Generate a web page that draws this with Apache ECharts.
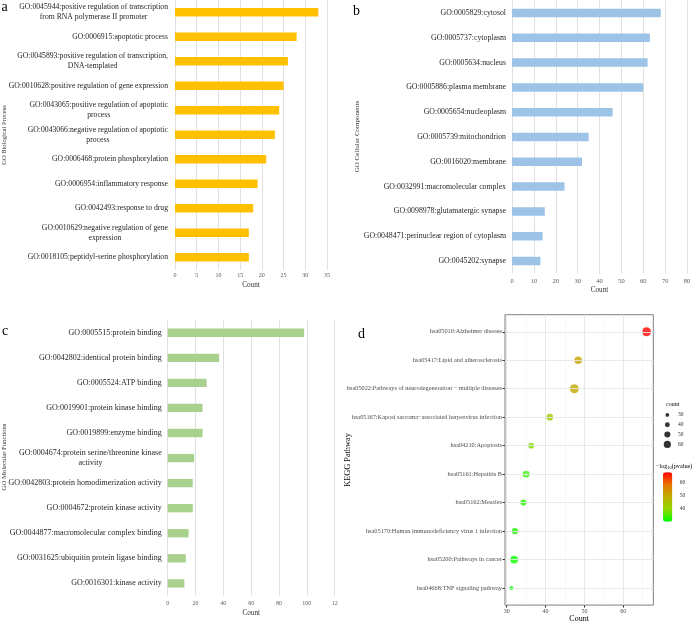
<!DOCTYPE html>
<html><head><meta charset="utf-8">
<script src="https://cdn.jsdelivr.net/npm/echarts@6/dist/echarts.min.js"></script>
<style>html,body{margin:0;padding:0;background:#fff}#c{width:700px;height:624px}</style>
</head><body><div id="c"></div>
<script>
// ---------- data ----------
const bpTerms = [
  "GO:0045944:positive regulation of transcription\nfrom RNA polymerase II promoter",
  "GO:0006915:apoptotic process",
  "GO:0045893:positive regulation of transcription,\nDNA-templated",
  "GO:0010628:positive regulation of gene expression",
  "GO:0043065:positive regulation of apoptotic\nprocess",
  "GO:0043066:negative regulation of apoptotic\nprocess",
  "GO:0006468:protein phosphorylation",
  "GO:0006954:inflammatory response",
  "GO:0042493:response to drug",
  "GO:0010629:negative regulation of gene\nexpression",
  "GO:0018105:peptidyl-serine phosphorylation"
];
const bpCounts = [33, 28, 26, 25, 24, 23, 21, 19, 18, 17, 17];

const ccTerms = [
  "GO:0005829:cytosol",
  "GO:0005737:cytoplasm",
  "GO:0005634:nucleus",
  "GO:0005886:plasma membrane",
  "GO:0005654:nucleoplasm",
  "GO:0005739:mitochondrion",
  "GO:0016020:membrane",
  "GO:0032991:macromolecular complex",
  "GO:0098978:glutamatergic synapse",
  "GO:0048471:perinuclear region of cytoplasm",
  "GO:0045202:synapse"
];
const ccCounts = [68, 63, 62, 60, 46, 35, 32, 24, 15, 14, 13];

const mfTerms = [
  "GO:0005515:protein binding",
  "GO:0042802:identical protein binding",
  "GO:0005524:ATP binding",
  "GO:0019901:protein kinase binding",
  "GO:0019899:enzyme binding",
  "GO:0004674:protein serine/threonine kinase\nactivity",
  "GO:0042803:protein homodimerization activity",
  "GO:0004672:protein kinase activity",
  "GO:0044877:macromolecular complex binding",
  "GO:0031625:ubiquitin protein ligase binding",
  "GO:0016301:kinase activity"
];
const mfCounts = [98, 37, 28, 25, 25, 19, 18, 18, 15, 13, 12];

const keggTerms = [
  "hsa05010:Alzheimer disease",
  "hsa05417:Lipid and atherosclerosis",
  "hsa05022:Pathways of neurodegeneration \u2212 multiple diseases",
  "hsa05167:Kaposi sarcoma\u2212associated herpesvirus infection",
  "hsa04210:Apoptosis",
  "hsa05161:Hepatitis B",
  "hsa05162:Measles",
  "hsa05170:Human immunodeficiency virus 1 infection",
  "hsa05200:Pathways in cancer",
  "hsa04668:TNF signaling pathway"
];
const keggX = [66.0, 48.4, 47.4, 41.1, 36.3, 35.0, 34.3, 32.1, 31.9, 31.2];
const keggGeneCount = [76, 64, 76, 56, 47, 58, 50, 52, 65, 34];
const keggLogP = [67.5, 50.5, 50.0, 42.5, 38.0, 33.0, 32.5, 31.5, 30.5, 30.0];

const keggXTicks = [30, 40, 50, 60];
const keggXMinor = [35, 45, 55, 65];
const sizeLegendValues = [30, 40, 50, 60];
const colorbarTicks = [40, 50, 60];

// ---------- helpers ----------
const FONT = 'Liberation Serif';
const sizeOf = c => 0.115 * c + 0.3;
const keggPos = keggTerms.map((t, i) => i + 1);

function catAxis(gridIndex, data, size, margin) {
  return {
    type: 'category', gridIndex, data, inverse: true,
    axisLine: {show: false}, axisTick: {show: false}, splitLine: {show: false},
    axisLabel: {
      interval: 0, margin, align: 'right',
      formatter: v => v.split('\n').map(s => '{t|' + s + '}').join('\n'),
      rich: {t: {align: 'center', fontFamily: FONT, fontSize: size, color: '#1f1f1f', lineHeight: 10}}
    }
  };
}
function valAxis(gridIndex, max, interval, fs, margin, nameGap, fmt) {
  return {
    type: 'value', gridIndex, min: 0, max, interval,
    axisLine: {show: false}, axisTick: {show: false},
    splitLine: {show: true, lineStyle: {color: '#e0e0e0', width: 1}},
    axisLabel: {fontFamily: FONT, fontSize: fs, color: '#595959', margin, formatter: fmt},
    name: 'Count', nameLocation: 'middle', nameGap,
    nameTextStyle: {fontFamily: FONT, fontSize: 7.2, color: '#333'}
  };
}

const chart = echarts.init(document.getElementById('c'), null, {renderer: 'canvas'});
const option = {
  animation: false,
  backgroundColor: '#fff',
  grid: [
    {left: 175, top: 0, width: 152, height: 269.5},
    {left: 512, top: 0.6, width: 175, height: 272.8},
    {left: 167.7, top: 320.2, width: 167, height: 275.7},
    {left: 505, top: 314.7, width: 148.3, height: 291.3, show: true, borderColor: '#808080', borderWidth: 1, backgroundColor: 'transparent'},
    {left: 660, top: 410, width: 15, height: 39.3},
    {left: 663, top: 472.3, width: 9.3, height: 49.4}
  ],
  xAxis: [
    valAxis(0, 35, 5, 6, 3.3, 12.5),
    valAxis(1, 80, 10, 6.5, 4.4, 13.6),
    valAxis(2, 120, 20, 6, 4.8, 14, v => v === 120 ? '12' : String(v)),
    {
      type: 'value', gridIndex: 3, min: 29.55, max: 67.75,
      axisLine: {show: false}, splitLine: {show: false},
      axisTick: {show: true, customValues: keggXTicks, length: 2.5, lineStyle: {color: '#333'}},
      axisLabel: {customValues: keggXTicks, fontFamily: FONT, fontSize: 6, color: '#4d4d4d', margin: 3},
      name: 'Count', nameLocation: 'middle', nameGap: 9.7,
      nameTextStyle: {fontFamily: FONT, fontSize: 8, color: '#000'}
    },
    {type: 'value', gridIndex: 4, min: 0, max: 1, show: false},
    {type: 'value', gridIndex: 5, min: 0, max: 1, show: false}
  ],
  yAxis: [
    catAxis(0, bpTerms, 7.7, 7),
    catAxis(1, ccTerms, 7.8, 6),
    catAxis(2, mfTerms, 8, 6),
    {
      type: 'value', gridIndex: 3, inverse: true, min: 0.4, max: 10.6,
      axisLine: {show: false}, splitLine: {show: false},
      axisTick: {show: true, customValues: keggPos, length: 2.5, lineStyle: {color: '#333'}},
      axisLabel: {customValues: keggPos, formatter: v => keggTerms[Math.round(v) - 1],
        fontFamily: FONT, fontSize: 6.3, color: '#4d4d4d', margin: 3}
    },
    {
      type: 'category', gridIndex: 4, data: sizeLegendValues.map(String), inverse: true, position: 'right',
      axisLine: {show: false}, axisTick: {show: false}, splitLine: {show: false},
      axisLabel: {fontFamily: FONT, fontSize: 5.5, color: '#333', margin: 3}
    },
    {
      type: 'value', gridIndex: 5, min: 29.7, max: 67.7, position: 'right', z: 10,
      axisLine: {show: false}, splitLine: {show: false},
      axisTick: {show: true, inside: true, customValues: colorbarTicks, length: 2, lineStyle: {color: '#fff', width: 1}},
      axisLabel: {customValues: colorbarTicks, fontFamily: FONT, fontSize: 5.5, color: '#333', margin: 7.5}
    }
  ],
  visualMap: [{
    type: 'continuous', seriesIndex: 4, dimension: 2, min: 29.7, max: 67.7,
    inRange: {color: ['#00FF00', '#8FD800', '#BDAE00', '#E67800', '#FF0000']},
    left: 663, top: 472.3, itemWidth: 9.3, itemHeight: 49.4, padding: 0,
    calculable: false, hoverLink: false
  }],
  series: [
    {type: 'bar', xAxisIndex: 0, yAxisIndex: 0, data: bpCounts, barWidth: 8.3, itemStyle: {color: '#FFC000'}},
    {type: 'bar', xAxisIndex: 1, yAxisIndex: 1, data: ccCounts, barWidth: 8.5, itemStyle: {color: '#9DC3E6'}},
    {type: 'bar', xAxisIndex: 2, yAxisIndex: 2, data: mfCounts, barWidth: 8.3, itemStyle: {color: '#A9D18E'}},
    {
      type: 'scatter', xAxisIndex: 3, yAxisIndex: 3, data: [], z: 1, silent: true,
      markLine: {
        silent: true, symbol: ['none', 'none'], label: {show: false}, animation: false,
        data: [].concat(
          keggXMinor.map(v => ({xAxis: v, lineStyle: {color: '#f0f0f0', width: 0.5, type: 'solid'}})),
          keggXTicks.map(v => ({xAxis: v, lineStyle: {color: '#e6e6e6', width: 0.9, type: 'solid'}})),
          keggPos.map(v => ({yAxis: v, lineStyle: {color: '#e6e6e6', width: 0.9, type: 'solid'}}))
        )
      }
    },
    {
      type: 'scatter', xAxisIndex: 3, yAxisIndex: 3, z: 3,
      data: keggTerms.map((t, i) => [keggX[i], keggPos[i], keggLogP[i], keggGeneCount[i]]),
      symbolSize: v => sizeOf(v[3])
    },
    {
      type: 'scatter', xAxisIndex: 4, yAxisIndex: 4, z: 3,
      data: sizeLegendValues.map(v => [0.49, String(v), v]),
      symbolSize: v => sizeOf(v[2]), itemStyle: {color: '#000'}
    }
  ],
  graphic: [
    {type: 'text', silent: true, style: {x: 1.5, y: 7, text: 'a', font: '14px "Liberation Serif"', fill: '#000', verticalAlign: 'middle'}},
    {type: 'text', silent: true, style: {x: 353, y: 11, text: 'b', font: '14px "Liberation Serif"', fill: '#000', verticalAlign: 'middle'}},
    {type: 'text', silent: true, style: {x: 2, y: 331, text: 'c', font: '14px "Liberation Serif"', fill: '#000', verticalAlign: 'middle'}},
    {type: 'text', silent: true, style: {x: 358, y: 334.5, text: 'd', font: '14px "Liberation Serif"', fill: '#000', verticalAlign: 'middle'}},
    {type: 'text', silent: true, x: 4.5, y: 135, rotation: Math.PI / 2,
      style: {text: 'GO Biological Process', font: '6.5px "Liberation Serif"', fill: '#333', align: 'center', verticalAlign: 'middle'}},
    {type: 'text', silent: true, x: 357, y: 136.5, rotation: Math.PI / 2,
      style: {text: 'GO Cellular Components', font: '7px "Liberation Serif"', fill: '#333', align: 'center', verticalAlign: 'middle'}},
    {type: 'text', silent: true, x: 4.5, y: 457, rotation: Math.PI / 2,
      style: {text: 'GO Molecular Functions', font: '6.7px "Liberation Serif"', fill: '#333', align: 'center', verticalAlign: 'middle'}},
    {type: 'text', silent: true, x: 347.5, y: 460, rotation: Math.PI / 2,
      style: {text: 'KEGG Pathway', font: '8.3px "Liberation Serif"', fill: '#000', align: 'center', verticalAlign: 'middle'}},
    {type: 'text', silent: true, style: {x: 666, y: 404, text: 'count', font: '6px "Liberation Serif"', fill: '#000', verticalAlign: 'middle'}},
    {type: 'text', silent: true, style: {x: 656, y: 466,
      text: '{n|\u2212log}{s|10}{n|(pvalue)}', verticalAlign: 'middle',
      rich: {n: {fontFamily: FONT, fontSize: 6.2, fill: '#000', lineHeight: 8}, s: {fontFamily: FONT, fontSize: 4.3, fill: '#000', lineHeight: 8, verticalAlign: 'bottom'}}}}
  ]
};
chart.setOption(option);
</script>
</body></html>
